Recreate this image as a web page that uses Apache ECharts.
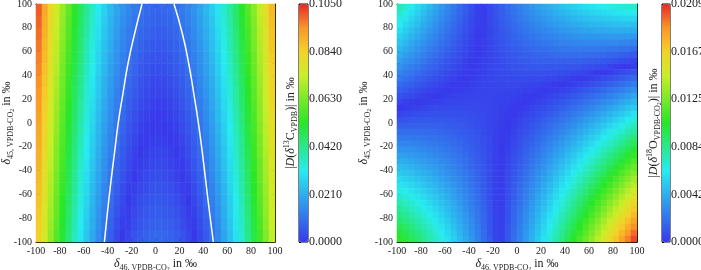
<!DOCTYPE html>
<html><head><meta charset="utf-8">
<script src="https://cdn.jsdelivr.net/npm/echarts@6/dist/echarts.min.js"></script>
<style>html,body{margin:0;padding:0;background:#fff}#c{width:701px;height:270px}</style>
</head><body><div id="c"></div>
<script>
// cell centres (‰)
const colsFine = ['-97.5','-92.5','-87.5','-82.5','-77.5','-72.5','-67.5','-62.5','-57.5','-52.5','-47.5','-42.5','-37.5','-32.5','-27.5','-22.5','-17.5','-12.5','-7.5','-2.5','2.5','7.5','12.5','17.5','22.5','27.5','32.5','37.5','42.5','47.5','52.5','57.5','62.5','67.5','72.5','77.5','82.5','87.5','92.5','97.5'];
const cellCenters = ['-95','-85','-75','-65','-55','-45','-35','-25','-15','-5','5','15','25','35','45','55','65','75','85','95'];

// |D(δ13C)| rows, top row (δ45 = 95) first, columns δ46 = -97.5 .. 97.5
const d13Rows = [
[0.10008,0.09111,0.08260,0.07455,0.06696,0.05983,0.05316,0.04695,0.04120,0.03591,0.03108,0.02671,0.02280,0.01935,0.01636,0.01383,0.01176,0.01015,0.00900,0.00831,0.00808,0.00830,0.00897,0.01008,0.01164,0.01364,0.01609,0.01898,0.02232,0.02610,0.03033,0.03500,0.04012,0.04568,0.05169,0.05814,0.06504,0.07238,0.08017,0.08840],
[0.09923,0.09026,0.08175,0.07370,0.06611,0.05898,0.05231,0.04610,0.04035,0.03506,0.03023,0.02586,0.02195,0.01850,0.01551,0.01298,0.01091,0.00930,0.00815,0.00746,0.00723,0.00745,0.00812,0.00923,0.01079,0.01279,0.01524,0.01813,0.02147,0.02525,0.02948,0.03415,0.03927,0.04483,0.05084,0.05729,0.06419,0.07153,0.07932,0.08755],
[0.09838,0.08941,0.08090,0.07285,0.06526,0.05813,0.05146,0.04525,0.03950,0.03421,0.02938,0.02501,0.02110,0.01765,0.01466,0.01213,0.01006,0.00845,0.00730,0.00661,0.00638,0.00660,0.00727,0.00838,0.00994,0.01194,0.01439,0.01728,0.02062,0.02440,0.02863,0.03330,0.03842,0.04398,0.04999,0.05644,0.06334,0.07068,0.07847,0.08670],
[0.09753,0.08856,0.08005,0.07200,0.06441,0.05728,0.05061,0.04440,0.03865,0.03336,0.02853,0.02416,0.02025,0.01680,0.01381,0.01128,0.00921,0.00760,0.00645,0.00576,0.00553,0.00575,0.00642,0.00753,0.00909,0.01109,0.01354,0.01643,0.01977,0.02355,0.02778,0.03245,0.03757,0.04313,0.04914,0.05559,0.06249,0.06983,0.07762,0.08585],
[0.09668,0.08771,0.07920,0.07115,0.06356,0.05643,0.04976,0.04355,0.03780,0.03251,0.02768,0.02331,0.01940,0.01595,0.01296,0.01043,0.00836,0.00675,0.00560,0.00491,0.00468,0.00490,0.00557,0.00668,0.00824,0.01024,0.01269,0.01558,0.01892,0.02270,0.02693,0.03160,0.03672,0.04228,0.04829,0.05474,0.06164,0.06898,0.07677,0.08500],
[0.09583,0.08686,0.07835,0.07030,0.06271,0.05558,0.04891,0.04270,0.03695,0.03166,0.02683,0.02246,0.01855,0.01510,0.01211,0.00958,0.00751,0.00590,0.00475,0.00406,0.00383,0.00405,0.00472,0.00583,0.00739,0.00939,0.01184,0.01473,0.01807,0.02185,0.02608,0.03075,0.03587,0.04143,0.04744,0.05389,0.06079,0.06813,0.07592,0.08415],
[0.09498,0.08601,0.07750,0.06945,0.06186,0.05473,0.04806,0.04185,0.03610,0.03081,0.02598,0.02161,0.01770,0.01425,0.01126,0.00873,0.00666,0.00505,0.00390,0.00321,0.00298,0.00320,0.00387,0.00498,0.00654,0.00854,0.01099,0.01388,0.01722,0.02100,0.02523,0.02990,0.03502,0.04058,0.04659,0.05304,0.05994,0.06728,0.07507,0.08330],
[0.09413,0.08516,0.07665,0.06860,0.06101,0.05388,0.04721,0.04100,0.03525,0.02996,0.02513,0.02076,0.01685,0.01340,0.01041,0.00788,0.00581,0.00420,0.00305,0.00236,0.00213,0.00235,0.00302,0.00413,0.00569,0.00769,0.01014,0.01303,0.01637,0.02015,0.02438,0.02905,0.03417,0.03973,0.04574,0.05219,0.05909,0.06643,0.07422,0.08245],
[0.09328,0.08431,0.07580,0.06775,0.06016,0.05303,0.04636,0.04015,0.03440,0.02911,0.02428,0.01991,0.01600,0.01255,0.00956,0.00703,0.00496,0.00335,0.00220,0.00151,0.00128,0.00150,0.00217,0.00328,0.00484,0.00684,0.00929,0.01218,0.01552,0.01930,0.02353,0.02820,0.03332,0.03888,0.04489,0.05134,0.05824,0.06558,0.07337,0.08160],
[0.09243,0.08346,0.07495,0.06690,0.05931,0.05218,0.04551,0.03930,0.03355,0.02826,0.02343,0.01906,0.01515,0.01170,0.00871,0.00618,0.00411,0.00250,0.00135,0.00066,0.00043,0.00065,0.00132,0.00243,0.00399,0.00599,0.00844,0.01133,0.01467,0.01845,0.02268,0.02735,0.03247,0.03803,0.04404,0.05049,0.05739,0.06473,0.07252,0.08075],
[0.09157,0.08260,0.07409,0.06604,0.05845,0.05132,0.04465,0.03844,0.03269,0.02740,0.02257,0.01820,0.01429,0.01084,0.00785,0.00532,0.00325,0.00164,0.00049,0.00020,0.00043,0.00021,0.00046,0.00157,0.00313,0.00513,0.00758,0.01047,0.01381,0.01759,0.02182,0.02649,0.03161,0.03717,0.04318,0.04963,0.05653,0.06387,0.07166,0.07989],
[0.09072,0.08175,0.07324,0.06519,0.05760,0.05047,0.04380,0.03759,0.03184,0.02655,0.02172,0.01735,0.01344,0.00999,0.00700,0.00447,0.00240,0.00079,0.00036,0.00105,0.00128,0.00106,0.00039,0.00072,0.00228,0.00428,0.00673,0.00962,0.01296,0.01674,0.02097,0.02564,0.03076,0.03632,0.04233,0.04878,0.05568,0.06302,0.07081,0.07904],
[0.08987,0.08090,0.07239,0.06434,0.05675,0.04962,0.04295,0.03674,0.03099,0.02570,0.02087,0.01650,0.01259,0.00914,0.00615,0.00362,0.00155,0.00006,0.00121,0.00190,0.00213,0.00191,0.00124,0.00013,0.00143,0.00343,0.00588,0.00877,0.01211,0.01589,0.02012,0.02479,0.02991,0.03547,0.04148,0.04793,0.05483,0.06217,0.06996,0.07819],
[0.08902,0.08005,0.07154,0.06349,0.05590,0.04877,0.04210,0.03589,0.03014,0.02485,0.02002,0.01565,0.01174,0.00829,0.00530,0.00277,0.00070,0.00091,0.00206,0.00275,0.00298,0.00276,0.00209,0.00098,0.00058,0.00258,0.00503,0.00792,0.01126,0.01504,0.01927,0.02394,0.02906,0.03462,0.04063,0.04708,0.05398,0.06132,0.06911,0.07734],
[0.08817,0.07920,0.07069,0.06264,0.05505,0.04792,0.04125,0.03504,0.02929,0.02400,0.01917,0.01480,0.01089,0.00744,0.00445,0.00192,0.00015,0.00176,0.00291,0.00360,0.00383,0.00361,0.00294,0.00183,0.00027,0.00173,0.00418,0.00707,0.01041,0.01419,0.01842,0.02309,0.02821,0.03377,0.03978,0.04623,0.05313,0.06047,0.06826,0.07649],
[0.08732,0.07835,0.06984,0.06179,0.05420,0.04707,0.04040,0.03419,0.02844,0.02315,0.01832,0.01395,0.01004,0.00659,0.00360,0.00107,0.00100,0.00261,0.00376,0.00445,0.00468,0.00446,0.00379,0.00268,0.00112,0.00088,0.00333,0.00622,0.00956,0.01334,0.01757,0.02224,0.02736,0.03292,0.03893,0.04538,0.05228,0.05962,0.06741,0.07564],
[0.08647,0.07750,0.06899,0.06094,0.05335,0.04622,0.03955,0.03334,0.02759,0.02230,0.01747,0.01310,0.00919,0.00574,0.00275,0.00022,0.00185,0.00346,0.00461,0.00530,0.00553,0.00531,0.00464,0.00353,0.00197,0.00003,0.00248,0.00537,0.00871,0.01249,0.01672,0.02139,0.02651,0.03207,0.03808,0.04453,0.05143,0.05877,0.06656,0.07479],
[0.08562,0.07665,0.06814,0.06009,0.05250,0.04537,0.03870,0.03249,0.02674,0.02145,0.01662,0.01225,0.00834,0.00489,0.00190,0.00063,0.00270,0.00431,0.00546,0.00615,0.00638,0.00616,0.00549,0.00438,0.00282,0.00082,0.00163,0.00452,0.00786,0.01164,0.01587,0.02054,0.02566,0.03122,0.03723,0.04368,0.05058,0.05792,0.06571,0.07394],
[0.08477,0.07580,0.06729,0.05924,0.05165,0.04452,0.03785,0.03164,0.02589,0.02060,0.01577,0.01140,0.00749,0.00404,0.00105,0.00148,0.00355,0.00516,0.00631,0.00700,0.00723,0.00701,0.00634,0.00523,0.00367,0.00167,0.00078,0.00367,0.00701,0.01079,0.01502,0.01969,0.02481,0.03037,0.03638,0.04283,0.04973,0.05707,0.06486,0.07309],
[0.08392,0.07495,0.06644,0.05839,0.05080,0.04367,0.03700,0.03079,0.02504,0.01975,0.01492,0.01055,0.00664,0.00319,0.00020,0.00233,0.00440,0.00601,0.00716,0.00785,0.00808,0.00786,0.00719,0.00608,0.00452,0.00252,0.00007,0.00282,0.00616,0.00994,0.01417,0.01884,0.02396,0.02952,0.03553,0.04198,0.04888,0.05622,0.06401,0.07224]
];

// |D(δ18O)| rows, top row (δ45 = 97.5) first, columns δ46 = -97.5 .. 97.5
const d18Rows = [
[0.00750,0.00686,0.00624,0.00563,0.00504,0.00446,0.00390,0.00335,0.00281,0.00229,0.00178,0.00128,0.00080,0.00033,0.00013,0.00057,0.00100,0.00141,0.00181,0.00219,0.00257,0.00292,0.00327,0.00360,0.00392,0.00422,0.00451,0.00478,0.00505,0.00529,0.00553,0.00575,0.00595,0.00615,0.00632,0.00649,0.00664,0.00678,0.00690,0.00701],
[0.00707,0.00647,0.00588,0.00530,0.00474,0.00419,0.00365,0.00313,0.00262,0.00213,0.00165,0.00118,0.00073,0.00029,0.00014,0.00055,0.00094,0.00133,0.00170,0.00205,0.00240,0.00272,0.00304,0.00334,0.00363,0.00390,0.00416,0.00440,0.00464,0.00485,0.00506,0.00525,0.00543,0.00559,0.00574,0.00587,0.00599,0.00610,0.00620,0.00628],
[0.00664,0.00607,0.00551,0.00496,0.00443,0.00391,0.00340,0.00291,0.00243,0.00197,0.00152,0.00108,0.00066,0.00025,0.00015,0.00053,0.00089,0.00125,0.00159,0.00191,0.00223,0.00253,0.00281,0.00308,0.00334,0.00358,0.00381,0.00403,0.00423,0.00442,0.00459,0.00475,0.00490,0.00503,0.00515,0.00526,0.00535,0.00543,0.00549,0.00554],
[0.00622,0.00567,0.00514,0.00462,0.00412,0.00363,0.00315,0.00269,0.00224,0.00181,0.00139,0.00098,0.00059,0.00021,0.00016,0.00051,0.00085,0.00117,0.00148,0.00178,0.00206,0.00233,0.00258,0.00283,0.00305,0.00327,0.00347,0.00365,0.00383,0.00398,0.00413,0.00426,0.00438,0.00448,0.00457,0.00465,0.00471,0.00476,0.00479,0.00481],
[0.00578,0.00527,0.00477,0.00428,0.00381,0.00335,0.00290,0.00247,0.00205,0.00165,0.00126,0.00088,0.00052,0.00017,0.00017,0.00049,0.00080,0.00109,0.00137,0.00164,0.00189,0.00213,0.00236,0.00257,0.00277,0.00295,0.00312,0.00328,0.00342,0.00355,0.00366,0.00376,0.00385,0.00393,0.00398,0.00403,0.00406,0.00408,0.00409,0.00408],
[0.00535,0.00487,0.00440,0.00394,0.00349,0.00306,0.00265,0.00224,0.00186,0.00148,0.00112,0.00077,0.00044,0.00012,0.00019,0.00048,0.00076,0.00102,0.00127,0.00151,0.00173,0.00194,0.00214,0.00232,0.00249,0.00264,0.00278,0.00291,0.00302,0.00312,0.00320,0.00327,0.00333,0.00338,0.00341,0.00342,0.00342,0.00341,0.00339,0.00335],
[0.00492,0.00446,0.00402,0.00359,0.00318,0.00278,0.00239,0.00202,0.00166,0.00131,0.00098,0.00067,0.00036,0.00007,0.00020,0.00047,0.00071,0.00095,0.00117,0.00138,0.00157,0.00175,0.00192,0.00207,0.00221,0.00233,0.00244,0.00254,0.00262,0.00269,0.00275,0.00279,0.00281,0.00283,0.00283,0.00281,0.00279,0.00275,0.00269,0.00262],
[0.00448,0.00405,0.00364,0.00324,0.00286,0.00249,0.00213,0.00179,0.00146,0.00115,0.00084,0.00056,0.00028,0.00002,0.00022,0.00046,0.00068,0.00088,0.00107,0.00125,0.00141,0.00156,0.00170,0.00182,0.00193,0.00202,0.00210,0.00217,0.00222,0.00226,0.00229,0.00230,0.00230,0.00228,0.00225,0.00221,0.00215,0.00208,0.00200,0.00190],
[0.00404,0.00365,0.00326,0.00290,0.00254,0.00220,0.00187,0.00156,0.00126,0.00097,0.00070,0.00045,0.00020,0.00003,0.00025,0.00045,0.00064,0.00081,0.00097,0.00112,0.00126,0.00138,0.00148,0.00157,0.00165,0.00172,0.00177,0.00181,0.00183,0.00184,0.00183,0.00182,0.00179,0.00174,0.00168,0.00161,0.00152,0.00142,0.00130,0.00118],
[0.00360,0.00324,0.00288,0.00254,0.00222,0.00191,0.00161,0.00133,0.00106,0.00080,0.00056,0.00033,0.00012,0.00008,0.00027,0.00044,0.00060,0.00075,0.00088,0.00100,0.00110,0.00119,0.00127,0.00133,0.00138,0.00141,0.00144,0.00144,0.00144,0.00142,0.00138,0.00133,0.00127,0.00120,0.00111,0.00101,0.00089,0.00076,0.00061,0.00046],
[0.00316,0.00282,0.00250,0.00219,0.00190,0.00161,0.00135,0.00109,0.00085,0.00063,0.00042,0.00022,0.00003,0.00014,0.00030,0.00044,0.00057,0.00068,0.00079,0.00087,0.00095,0.00101,0.00106,0.00109,0.00111,0.00111,0.00110,0.00108,0.00105,0.00100,0.00093,0.00085,0.00076,0.00066,0.00054,0.00041,0.00026,0.00010,0.00007,0.00026],
[0.00271,0.00241,0.00212,0.00184,0.00157,0.00132,0.00108,0.00086,0.00065,0.00045,0.00027,0.00010,0.00006,0.00020,0.00032,0.00044,0.00054,0.00062,0.00069,0.00075,0.00080,0.00083,0.00085,0.00085,0.00084,0.00081,0.00078,0.00072,0.00066,0.00058,0.00048,0.00038,0.00026,0.00012,0.00003,0.00019,0.00037,0.00056,0.00076,0.00098],
[0.00227,0.00199,0.00173,0.00148,0.00124,0.00102,0.00081,0.00062,0.00044,0.00027,0.00012,0.00002,0.00014,0.00025,0.00035,0.00044,0.00051,0.00056,0.00060,0.00063,0.00065,0.00065,0.00063,0.00061,0.00057,0.00051,0.00044,0.00036,0.00027,0.00016,0.00003,0.00010,0.00025,0.00042,0.00060,0.00079,0.00100,0.00122,0.00145,0.00170],
[0.00182,0.00157,0.00134,0.00112,0.00091,0.00072,0.00054,0.00038,0.00023,0.00009,0.00003,0.00014,0.00023,0.00032,0.00038,0.00044,0.00048,0.00050,0.00052,0.00051,0.00050,0.00047,0.00043,0.00037,0.00030,0.00022,0.00012,0.00001,0.00012,0.00026,0.00041,0.00058,0.00076,0.00095,0.00116,0.00138,0.00162,0.00187,0.00213,0.00241],
[0.00137,0.00115,0.00095,0.00076,0.00058,0.00042,0.00027,0.00014,0.00002,0.00009,0.00018,0.00026,0.00033,0.00038,0.00042,0.00044,0.00045,0.00045,0.00043,0.00040,0.00035,0.00030,0.00022,0.00014,0.00004,0.00008,0.00020,0.00035,0.00050,0.00067,0.00085,0.00105,0.00126,0.00148,0.00172,0.00197,0.00224,0.00252,0.00281,0.00312],
[0.00092,0.00073,0.00056,0.00040,0.00025,0.00012,0.00000,0.00011,0.00020,0.00027,0.00034,0.00039,0.00042,0.00044,0.00045,0.00045,0.00043,0.00039,0.00035,0.00029,0.00021,0.00012,0.00002,0.00010,0.00022,0.00037,0.00053,0.00070,0.00088,0.00108,0.00129,0.00152,0.00176,0.00201,0.00228,0.00256,0.00286,0.00317,0.00349,0.00383],
[0.00046,0.00031,0.00016,0.00003,0.00009,0.00019,0.00028,0.00035,0.00041,0.00046,0.00049,0.00051,0.00052,0.00051,0.00049,0.00045,0.00041,0.00034,0.00027,0.00018,0.00007,0.00005,0.00018,0.00033,0.00048,0.00066,0.00085,0.00105,0.00126,0.00149,0.00173,0.00199,0.00226,0.00254,0.00284,0.00315,0.00348,0.00382,0.00417,0.00453],
[0.00001,0.00012,0.00024,0.00034,0.00042,0.00050,0.00055,0.00060,0.00063,0.00065,0.00065,0.00064,0.00062,0.00058,0.00053,0.00046,0.00039,0.00029,0.00019,0.00007,0.00007,0.00022,0.00038,0.00055,0.00074,0.00095,0.00116,0.00139,0.00164,0.00190,0.00217,0.00245,0.00275,0.00307,0.00340,0.00374,0.00409,0.00446,0.00484,0.00524],
[0.00045,0.00055,0.00063,0.00070,0.00076,0.00080,0.00083,0.00085,0.00085,0.00084,0.00081,0.00077,0.00072,0.00065,0.00057,0.00048,0.00037,0.00024,0.00011,0.00004,0.00021,0.00038,0.00057,0.00078,0.00100,0.00123,0.00148,0.00174,0.00201,0.00230,0.00260,0.00292,0.00325,0.00359,0.00395,0.00432,0.00471,0.00510,0.00552,0.00594],
[0.00091,0.00098,0.00103,0.00107,0.00110,0.00111,0.00111,0.00110,0.00107,0.00103,0.00097,0.00090,0.00082,0.00072,0.00061,0.00049,0.00035,0.00020,0.00003,0.00015,0.00034,0.00055,0.00077,0.00101,0.00126,0.00152,0.00180,0.00209,0.00239,0.00271,0.00304,0.00339,0.00375,0.00412,0.00451,0.00491,0.00532,0.00575,0.00619,0.00665],
[0.00137,0.00141,0.00144,0.00145,0.00144,0.00143,0.00140,0.00135,0.00130,0.00122,0.00114,0.00104,0.00093,0.00080,0.00066,0.00050,0.00034,0.00015,0.00004,0.00025,0.00048,0.00071,0.00096,0.00123,0.00151,0.00180,0.00211,0.00243,0.00276,0.00311,0.00347,0.00385,0.00424,0.00464,0.00506,0.00549,0.00593,0.00639,0.00686,0.00735],
[0.00184,0.00185,0.00184,0.00182,0.00179,0.00174,0.00168,0.00161,0.00152,0.00142,0.00130,0.00118,0.00103,0.00088,0.00071,0.00052,0.00032,0.00011,0.00011,0.00035,0.00061,0.00087,0.00116,0.00145,0.00176,0.00208,0.00242,0.00277,0.00313,0.00351,0.00390,0.00430,0.00472,0.00516,0.00560,0.00606,0.00654,0.00703,0.00753,0.00804],
[0.00230,0.00228,0.00225,0.00220,0.00214,0.00206,0.00197,0.00187,0.00175,0.00162,0.00147,0.00131,0.00114,0.00095,0.00075,0.00054,0.00031,0.00007,0.00018,0.00045,0.00074,0.00103,0.00134,0.00167,0.00201,0.00236,0.00273,0.00310,0.00350,0.00391,0.00433,0.00476,0.00521,0.00567,0.00615,0.00664,0.00714,0.00766,0.00819,0.00874],
[0.00277,0.00272,0.00266,0.00258,0.00249,0.00238,0.00226,0.00213,0.00198,0.00182,0.00164,0.00145,0.00125,0.00104,0.00081,0.00056,0.00030,0.00003,0.00025,0.00055,0.00086,0.00119,0.00153,0.00189,0.00225,0.00264,0.00303,0.00344,0.00386,0.00430,0.00475,0.00522,0.00569,0.00619,0.00669,0.00721,0.00775,0.00829,0.00886,0.00943],
[0.00324,0.00316,0.00307,0.00296,0.00284,0.00270,0.00255,0.00239,0.00221,0.00202,0.00182,0.00160,0.00136,0.00112,0.00086,0.00059,0.00030,0.00000,0.00032,0.00065,0.00099,0.00135,0.00172,0.00210,0.00250,0.00291,0.00334,0.00377,0.00423,0.00469,0.00517,0.00567,0.00618,0.00670,0.00724,0.00778,0.00835,0.00893,0.00952,0.01012],
[0.00371,0.00360,0.00348,0.00334,0.00319,0.00302,0.00284,0.00265,0.00244,0.00222,0.00199,0.00174,0.00148,0.00120,0.00091,0.00061,0.00029,0.00004,0.00038,0.00074,0.00111,0.00150,0.00190,0.00231,0.00274,0.00318,0.00364,0.00411,0.00459,0.00509,0.00560,0.00612,0.00666,0.00721,0.00778,0.00835,0.00895,0.00955,0.01018,0.01081],
[0.00419,0.00405,0.00389,0.00372,0.00354,0.00335,0.00314,0.00292,0.00268,0.00243,0.00217,0.00189,0.00160,0.00129,0.00097,0.00064,0.00029,0.00007,0.00044,0.00083,0.00123,0.00165,0.00208,0.00252,0.00298,0.00345,0.00394,0.00444,0.00495,0.00547,0.00601,0.00657,0.00714,0.00772,0.00831,0.00892,0.00955,0.01018,0.01083,0.01150],
[0.00466,0.00449,0.00431,0.00411,0.00390,0.00367,0.00344,0.00318,0.00292,0.00264,0.00234,0.00203,0.00171,0.00138,0.00103,0.00067,0.00029,0.00010,0.00051,0.00092,0.00136,0.00180,0.00226,0.00274,0.00322,0.00372,0.00424,0.00477,0.00531,0.00587,0.00644,0.00702,0.00762,0.00823,0.00885,0.00949,0.01015,0.01081,0.01149,0.01219],
[0.00514,0.00494,0.00473,0.00450,0.00426,0.00400,0.00373,0.00345,0.00316,0.00285,0.00252,0.00218,0.00183,0.00147,0.00109,0.00070,0.00029,0.00013,0.00056,0.00101,0.00147,0.00195,0.00244,0.00294,0.00346,0.00399,0.00453,0.00509,0.00567,0.00625,0.00685,0.00746,0.00809,0.00873,0.00939,0.01006,0.01074,0.01144,0.01215,0.01287],
[0.00562,0.00539,0.00515,0.00489,0.00462,0.00433,0.00404,0.00372,0.00340,0.00306,0.00270,0.00234,0.00196,0.00156,0.00115,0.00073,0.00029,0.00016,0.00062,0.00110,0.00159,0.00210,0.00261,0.00315,0.00369,0.00425,0.00483,0.00542,0.00602,0.00663,0.00726,0.00791,0.00856,0.00924,0.00992,0.01062,0.01133,0.01206,0.01280,0.01355],
[0.00610,0.00584,0.00557,0.00528,0.00498,0.00467,0.00434,0.00400,0.00364,0.00327,0.00289,0.00249,0.00208,0.00166,0.00122,0.00076,0.00030,0.00018,0.00068,0.00118,0.00170,0.00224,0.00279,0.00335,0.00393,0.00452,0.00512,0.00574,0.00637,0.00702,0.00768,0.00835,0.00904,0.00974,0.01045,0.01118,0.01192,0.01268,0.01345,0.01423],
[0.00658,0.00629,0.00599,0.00568,0.00535,0.00500,0.00464,0.00427,0.00389,0.00349,0.00307,0.00265,0.00221,0.00175,0.00128,0.00080,0.00031,0.00020,0.00073,0.00126,0.00182,0.00238,0.00296,0.00355,0.00416,0.00478,0.00542,0.00606,0.00673,0.00740,0.00808,0.00879,0.00950,0.01023,0.01098,0.01174,0.01251,0.01329,0.01409,0.01491],
[0.00707,0.00675,0.00642,0.00607,0.00571,0.00534,0.00495,0.00455,0.00413,0.00370,0.00326,0.00281,0.00233,0.00185,0.00135,0.00084,0.00032,0.00022,0.00078,0.00134,0.00193,0.00252,0.00313,0.00375,0.00439,0.00504,0.00570,0.00638,0.00707,0.00777,0.00849,0.00922,0.00997,0.01073,0.01151,0.01229,0.01309,0.01391,0.01474,0.01558],
[0.00756,0.00721,0.00685,0.00647,0.00608,0.00568,0.00526,0.00483,0.00438,0.00392,0.00345,0.00297,0.00246,0.00195,0.00142,0.00088,0.00033,0.00024,0.00083,0.00142,0.00203,0.00266,0.00330,0.00395,0.00461,0.00529,0.00599,0.00669,0.00741,0.00815,0.00890,0.00966,0.01044,0.01123,0.01203,0.01285,0.01368,0.01452,0.01538,0.01626],
[0.00805,0.00767,0.00728,0.00687,0.00645,0.00602,0.00557,0.00511,0.00463,0.00415,0.00364,0.00313,0.00260,0.00205,0.00150,0.00092,0.00034,0.00026,0.00087,0.00150,0.00214,0.00279,0.00346,0.00414,0.00484,0.00555,0.00627,0.00701,0.00776,0.00852,0.00930,0.01009,0.01090,0.01172,0.01255,0.01340,0.01426,0.01514,0.01602,0.01693],
[0.00854,0.00813,0.00771,0.00727,0.00682,0.00636,0.00588,0.00539,0.00489,0.00437,0.00384,0.00329,0.00273,0.00216,0.00157,0.00097,0.00035,0.00027,0.00092,0.00157,0.00224,0.00293,0.00362,0.00434,0.00506,0.00580,0.00655,0.00732,0.00810,0.00889,0.00970,0.01052,0.01136,0.01221,0.01307,0.01395,0.01484,0.01575,0.01666,0.01760],
[0.00903,0.00859,0.00814,0.00767,0.00720,0.00670,0.00620,0.00568,0.00514,0.00459,0.00403,0.00346,0.00287,0.00226,0.00165,0.00101,0.00037,0.00029,0.00096,0.00165,0.00235,0.00306,0.00379,0.00453,0.00529,0.00605,0.00684,0.00763,0.00844,0.00927,0.01011,0.01096,0.01182,0.01270,0.01360,0.01450,0.01542,0.01636,0.01731,0.01827],
[0.00952,0.00906,0.00858,0.00808,0.00757,0.00705,0.00651,0.00596,0.00540,0.00482,0.00423,0.00362,0.00300,0.00237,0.00172,0.00106,0.00039,0.00030,0.00100,0.00172,0.00245,0.00319,0.00395,0.00472,0.00550,0.00630,0.00712,0.00794,0.00878,0.00964,0.01050,0.01139,0.01228,0.01319,0.01411,0.01505,0.01600,0.01696,0.01794,0.01893],
[0.01002,0.00952,0.00901,0.00849,0.00795,0.00740,0.00683,0.00625,0.00566,0.00505,0.00443,0.00379,0.00314,0.00248,0.00180,0.00111,0.00041,0.00031,0.00104,0.00179,0.00255,0.00332,0.00411,0.00491,0.00572,0.00655,0.00739,0.00825,0.00912,0.01000,0.01090,0.01181,0.01274,0.01367,0.01463,0.01559,0.01657,0.01757,0.01858,0.01960],
[0.01052,0.00999,0.00945,0.00890,0.00833,0.00775,0.00715,0.00654,0.00592,0.00528,0.00463,0.00396,0.00329,0.00259,0.00189,0.00117,0.00043,0.00032,0.00108,0.00185,0.00264,0.00345,0.00426,0.00509,0.00594,0.00680,0.00767,0.00855,0.00945,0.01037,0.01129,0.01223,0.01319,0.01416,0.01514,0.01614,0.01715,0.01817,0.01921,0.02026]
];

// 0.01 ‰ contour of the left panel
const contourY      = [100, 75, 50, 25, 0, -25, -50, -75, -100];
const contourLeftX  = [-11.3, -17.5, -23, -27.2, -31.2, -34.3, -37.4, -40.2, -42.8];
const contourRightX = [15.5, 22.5, 27.8, 32, 35.9, 39.2, 42.2, 45.2, 48.4];
const contourLabel  = [37, 3];

const d13Max = 0.105, d13Step = 0.021;
const d18Max = 0.0209, d18Step = 0.00418;

const palette = ['#3838eb','#3374ed','#2dafee','#28ebf0','#28e88c','#28e628','#78ea28','#caee28','#f3d228','#fa9628','#e62828'];

const FONT = 'Liberation Serif';
const TXT = '#222';

function toData(rows) {
  const out = [];
  rows.forEach((r, ri) => r.forEach((v, xi) => out.push([xi, rows.length - 1 - ri, v])));
  return out;
}
function zip(xs, ys) { return xs.map((x, i) => [x, ys[i]]); }

const rich = {
  m: {fontFamily: FONT, fontSize: 12, color: TXT, lineHeight: 16, verticalAlign: 'middle'},
  i: {fontFamily: FONT, fontSize: 12, fontStyle: 'italic', color: TXT, lineHeight: 16, verticalAlign: 'middle'},
  s: {fontFamily: FONT, fontSize: 8, color: TXT, verticalAlign: 'bottom', lineHeight: 11},
  ss: {fontFamily: FONT, fontSize: 6, color: TXT, verticalAlign: 'bottom', lineHeight: 8},
  p: {fontFamily: FONT, fontSize: 8, color: TXT, verticalAlign: 'top', lineHeight: 11}
};

const gridBase = {outerBoundsMode: 'none', containLabel: false};
const grids = [
  Object.assign({left: 36, top: 4, width: 239, height: 238}, gridBase),
  Object.assign({left: 397, top: 4, width: 240, height: 238}, gridBase),
  Object.assign({left: 299, top: 4, width: 9, height: 238, show: true, borderColor: '#000', borderWidth: 1, backgroundColor: 'transparent'}, gridBase),
  Object.assign({left: 662, top: 4, width: 8, height: 238, show: true, borderColor: '#000', borderWidth: 1, backgroundColor: 'transparent'}, gridBase)
];

function valAxis(gi, pos, labels, name, gap) {
  const a = {
    type: 'value', gridIndex: gi, position: pos, min: -100, max: 100, interval: 20,
    axisLine: {show: true, onZero: false, lineStyle: {color: '#000', width: 1}},
    axisTick: {show: true, inside: true, length: 4, lineStyle: {color: '#000'}},
    minorTick: {show: true, splitNumber: 2, length: 3, lineStyle: {color: '#000'}},
    splitLine: {show: false},
    axisLabel: {show: labels, fontFamily: FONT, fontSize: 10, color: TXT, margin: 4}
  };
  if (name) {
    a.name = name; a.nameLocation = 'middle'; a.nameGap = gap; a.nameMoveOverlap = false;
    a.nameTextStyle = {rich: rich};
  }
  return a;
}
function catAxis(gi, cats) {
  return {type: 'category', gridIndex: gi, data: cats, show: false};
}

const xName = '{i|δ}{s|46, VPDB-CO}{ss|2}{m| in ‰}';
const yName = '{i|δ}{s|45, VPDB-CO}{ss|2}{m| in ‰}';
const cb13Name = '{m||}{i|D}{m|(}{i|δ}{p|13}{m|C}{s|VPDB}{m|)| in ‰}';
const cb18Name = '{m||}{i|D}{m|(}{i|δ}{p|18}{m|O}{s|VPDB-CO}{ss|2}{m|)| in ‰}';

const xAxes = [
  catAxis(0, colsFine), valAxis(0, 'bottom', true, xName, 14), valAxis(0, 'top', false),
  catAxis(1, colsFine), valAxis(1, 'bottom', true, xName, 14), valAxis(1, 'top', false),
  {type: 'value', gridIndex: 2, show: false, min: 0, max: 1},
  {type: 'value', gridIndex: 3, show: false, min: 0, max: 1}
];
function cbAxis(gi, max, step) {
  return {
    type: 'value', gridIndex: gi, position: 'right', min: 0, max: max, interval: step,
    axisLine: {show: false}, splitLine: {show: false},
    axisTick: {show: true, inside: false, length: 2, lineStyle: {color: '#000'}},
    axisLabel: {fontFamily: FONT, fontSize: 12, color: TXT, margin: 1, formatter: v => v.toFixed(4)}
  };
}
function cbTitle(gi, name) {
  return {
    type: 'value', gridIndex: gi, position: 'left', min: 0, max: 1,
    axisLine: {show: false}, axisTick: {show: false}, axisLabel: {show: false}, splitLine: {show: false},
    name: name, nameLocation: 'middle', nameGap: 0, nameMoveOverlap: false, nameTextStyle: {rich: rich}
  };
}
const yAxes = [
  catAxis(0, cellCenters), valAxis(0, 'left', true, yName, 21), valAxis(0, 'right', false),
  catAxis(1, colsFine), valAxis(1, 'left', true, yName, 25), valAxis(1, 'right', false),
  cbAxis(2, d13Max, d13Step), cbTitle(2, cb13Name),
  cbAxis(3, d18Max, d18Step), cbTitle(3, cb18Name)
];

const option = {
  animation: false,
  backgroundColor: '#fff',
  grid: grids,
  xAxis: xAxes,
  yAxis: yAxes,
  visualMap: [
    {type: 'continuous', min: 0, max: d13Max, seriesIndex: 0, inRange: {color: palette},
     show: true, left: 299, top: 4, itemWidth: 9, itemHeight: 238, padding: 0, calculable: false, hoverLink: false, text: null},
    {type: 'continuous', min: 0, max: d18Max, seriesIndex: 1, inRange: {color: palette},
     show: true, left: 662, top: 4, itemWidth: 8, itemHeight: 238, padding: 0, calculable: false, hoverLink: false, text: null}
  ],
  series: [
    {type: 'heatmap', xAxisIndex: 0, yAxisIndex: 0, data: toData(d13Rows), progressive: 0, emphasis: {disabled: true}},
    {type: 'heatmap', xAxisIndex: 3, yAxisIndex: 3, data: toData(d18Rows), progressive: 0, emphasis: {disabled: true}},
    {type: 'line', xAxisIndex: 1, yAxisIndex: 1, data: zip(contourLeftX, contourY), smooth: true, symbol: 'none',
     lineStyle: {color: '#fff', width: 1.5}, silent: true, z: 5},
    {type: 'line', xAxisIndex: 1, yAxisIndex: 1, data: zip(contourRightX, contourY), smooth: true, symbol: 'none',
     lineStyle: {color: '#fff', width: 1.5}, silent: true, z: 5},
    {type: 'scatter', xAxisIndex: 1, yAxisIndex: 1, data: [contourLabel], symbolSize: 1, itemStyle: {opacity: 0}, z: 6,
     label: {show: true, position: 'inside', formatter: '0.01', fontFamily: FONT, fontSize: 10, color: '#fff',
             backgroundColor: '#8c8c8c', borderColor: '#e8e8e8', borderWidth: 1, padding: [1, 2, 0, 2]}}
  ]
};
echarts.init(document.getElementById('c')).setOption(option);
</script></body></html>
